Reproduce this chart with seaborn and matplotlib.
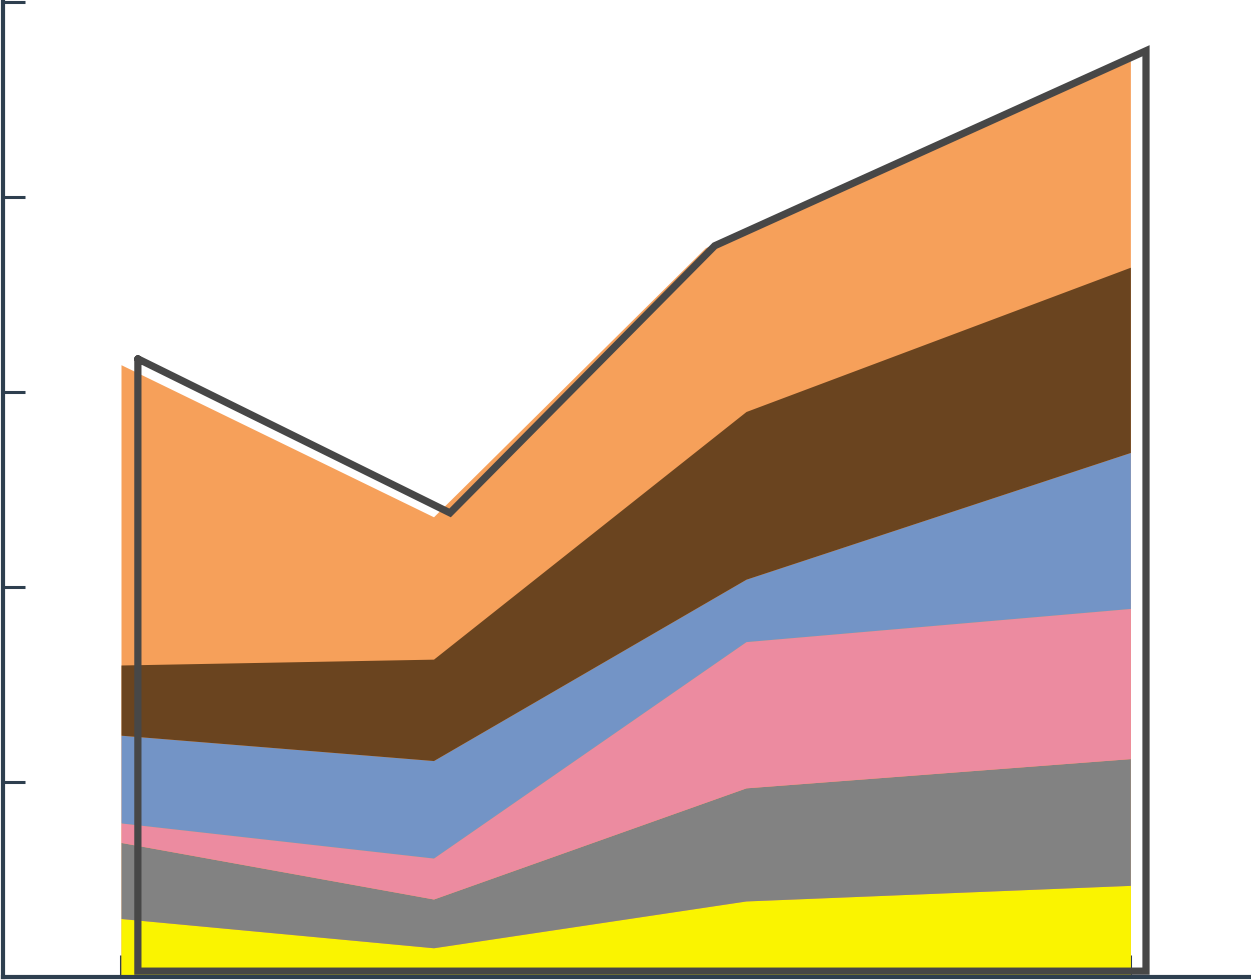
import numpy as np
import pandas as pd
import matplotlib
matplotlib.use("Agg")
import matplotlib.pyplot as plt
import seaborn as sns

# x positions of the four samples and the tick marks
x = [0.0, 1.0, 2.0, 3.23]
xticks = [0.0, 1.0, 2.03, 3.23]
yticks = [0, 1, 2, 3, 4, 5]

# stacked layers, bottom to top
yellow = [0.30, 0.15, 0.39, 0.47]
gray = [0.39, 0.25, 0.58, 0.65]
pink = [0.10, 0.21, 0.75, 0.77]
blue = [0.45, 0.50, 0.32, 0.80]
brown = [0.36, 0.52, 0.86, 0.95]

# top (orange) band: its outer edge has its own bend
orange_x = [0.0, 1.0, 1.87, 3.23]
orange_top = [3.14, 2.36, 3.74, 4.70]

colors = ["#FAF400", "#828282", "#EC8BA0", "#7394C6", "#6A441F"]
orange_color = "#F6A05A"

# dark outline drawn around the total
outline_x = [0.054, 1.053, 1.90, 3.28, 3.28, 0.054, 0.054]
outline_y = [3.17, 2.38, 3.75, 4.75, 0.03, 0.03, 3.17]

sns.set_style("white")

fig = plt.figure(figsize=(12.51, 9.8), dpi=100)
ax = fig.add_axes([3 / 1251, 3 / 980, 1248 / 1251, 975 / 980])

ax.fill_between(orange_x, 0, orange_top, color=orange_color, linewidth=0)
ax.stackplot(x, yellow, gray, pink, blue, brown, colors=colors, linewidth=0)

outline = pd.DataFrame({"x": outline_x, "y": outline_y})
sns.lineplot(data=outline, x="x", y="y", sort=False, estimator=None, ax=ax,
             color="#474747", linewidth=5.2, solid_joinstyle="miter")

ax.set_xlim(-0.3776, 3.616)
ax.set_ylim(0, 5)
ax.set_xticks(xticks)
ax.set_yticks(yticks)
ax.set_xticklabels([])
ax.set_yticklabels([])
ax.set_xlabel("")
ax.set_ylabel("")

for side in ["top", "right"]:
    ax.spines[side].set_visible(False)
for side in ["left", "bottom"]:
    ax.spines[side].set_color("#2E3F4F")
    ax.spines[side].set_linewidth(3)
ax.tick_params(direction="in", length=16, width=2.2, color="#2E3F4F",
               left=True, bottom=True)

fig.savefig("out.png", dpi=100)
